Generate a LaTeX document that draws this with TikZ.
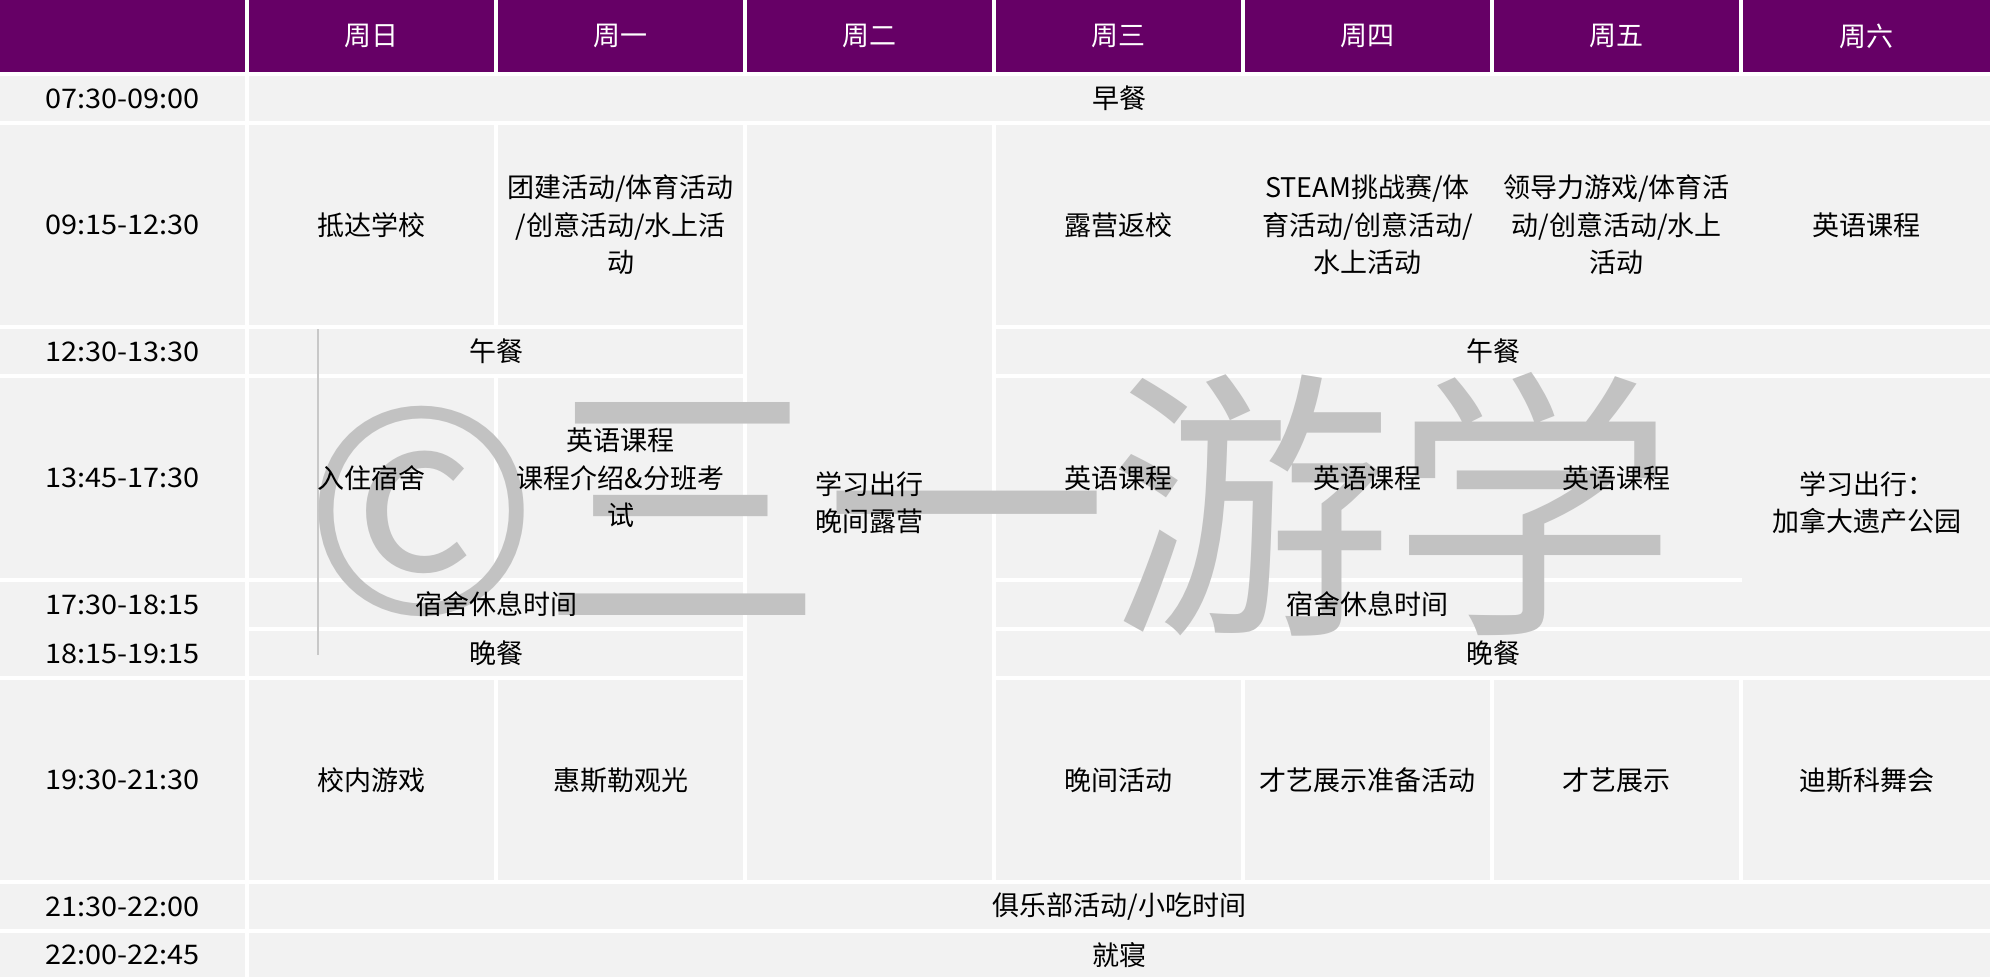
\documentclass[tikz,border=0pt]{standalone}
\usepackage{fontspec}
\setmainfont{Noto Sans CJK SC}
\definecolor{hdr}{HTML}{660066}
\definecolor{cellbg}{HTML}{F2F2F2}
\definecolor{wmark}{HTML}{C2C2C2}
\definecolor{thinline}{HTML}{C8C8C8}
\begin{document}
\begin{tikzpicture}[x=1pt,y=-1pt,
  cellfill/.style={fill=cellbg},
  hdrfill/.style={fill=hdr},
  txt/.style={font=\fontsize{27}{37.5}\selectfont, align=center, text=black, inner sep=0pt},
  timetxt/.style={font=\fontsize{27}{37.5}\selectfont\addfontfeature{FakeStretch=1.07}, align=center, text=black, inner sep=0pt},
  htxt/.style={txt, text=white},
  wmtxt/.style={font=\fontsize{284}{284}\selectfont, text=wmark, inner sep=0pt, anchor=base}]
\useasboundingbox (0,0) rectangle (1990,980);
\fill[white] (0,0) rectangle (1990,980);
% header
\fill[hdrfill] (0,0) rectangle (245,72);
\fill[hdrfill] (249,0) rectangle (494,72);
\fill[hdrfill] (498,0) rectangle (743,72);
\fill[hdrfill] (747,0) rectangle (992,72);
\fill[hdrfill] (996,0) rectangle (1241,72);
\fill[hdrfill] (1245,0) rectangle (1490,72);
\fill[hdrfill] (1494,0) rectangle (1739,72);
\fill[hdrfill] (1743,0) rectangle (1990,72);
% label column
\fill[cellfill] (0,76) rectangle (245,121);
\fill[cellfill] (0,125) rectangle (245,325);
\fill[cellfill] (0,329) rectangle (245,374);
\fill[cellfill] (0,378) rectangle (245,578);
\fill[cellfill] (0,582) rectangle (245,676);
\fill[cellfill] (0,680) rectangle (245,880);
\fill[cellfill] (0,884) rectangle (245,929);
\fill[cellfill] (0,933) rectangle (245,977);
% row 1
\fill[cellfill] (249,76) rectangle (1990,121);
% row 2
\fill[cellfill] (249,125) rectangle (494,325);
\fill[cellfill] (498,125) rectangle (743,325);
\fill[cellfill] (747,125) rectangle (992,880);
\fill[cellfill] (996,125) rectangle (1990,325);
% row 3
\fill[cellfill] (249,329) rectangle (743,374);
\fill[cellfill] (996,329) rectangle (1990,374);
% row 4
\fill[cellfill] (249,378) rectangle (494,578);
\fill[cellfill] (498,378) rectangle (743,578);
\fill[cellfill] (996,378) rectangle (1990,578);
\fill[cellfill] (1742,378) rectangle (1990,627);
% row 5
\fill[cellfill] (249,582) rectangle (743,627);
\fill[cellfill] (996,582) rectangle (1742,627);
% row 6
\fill[cellfill] (249,631) rectangle (743,676);
\fill[cellfill] (996,631) rectangle (1990,676);
% row 7
\fill[cellfill] (249,680) rectangle (494,880);
\fill[cellfill] (498,680) rectangle (743,880);
\fill[cellfill] (996,680) rectangle (1241,880);
\fill[cellfill] (1245,680) rectangle (1490,880);
\fill[cellfill] (1494,680) rectangle (1739,880);
\fill[cellfill] (1743,680) rectangle (1990,880);
% rows 8, 9
\fill[cellfill] (249,884) rectangle (1990,929);
\fill[cellfill] (249,933) rectangle (1990,977);
% thin grey line
\draw[thinline, line width=1.2pt] (318,329) -- (318,655);
% watermark
\node[wmtxt] (wm) at (990,613) {©三一游学};
% header texts
\node[htxt] (h0) at (371.5,36) {周日};
\node[htxt] (h1) at (620.5,36) {周一};
\node[htxt] (h2) at (869.5,36) {周二};
\node[htxt] (h3) at (1118.5,36) {周三};
\node[htxt] (h4) at (1367.5,36) {周四};
\node[htxt] (h5) at (1616.5,36) {周五};
\node[htxt] (h6) at (1866.5,36) {周六};
% time labels
\node[timetxt] (t1) at (122.5,98.5) {07:30-09:00};
\node[timetxt] (t2) at (122.5,225) {09:15-12:30};
\node[timetxt] (t3) at (122.5,351.5) {12:30-13:30};
\node[timetxt] (t4) at (122.5,478) {13:45-17:30};
\node[timetxt] (t5) at (122.5,604.5) {17:30-18:15};
\node[timetxt] (t6) at (122.5,653.5) {18:15-19:15};
\node[timetxt] (t7) at (122.5,780) {19:30-21:30};
\node[timetxt] (t8) at (122.5,906.5) {21:30-22:00};
\node[timetxt] (t9) at (122.5,955) {22:00-22:45};
% row 1
\node[txt] (breakfast) at (1119.5,98.5) {早餐};
% row 2
\node[txt] (arrive) at (371.5,225) {抵达学校};
\node[txt] (mon2) at (620.5,225) {团建活动/体育活动\\/创意活动/水上活\\动};
\node[txt] (tue) at (869.5,502.5) {学习出行\\晚间露营};
\node[txt] (wed2) at (1118.5,225) {露营返校};
\node[txt] (thu2) at (1367.5,225) {STEAM挑战赛/体\\育活动/创意活动/\\水上活动};
\node[txt] (fri2) at (1616.5,225) {领导力游戏/体育活\\动/创意活动/水上\\活动};
\node[txt] (sat2) at (1866.5,225) {英语课程};
% row 3
\node[txt] (lunchA) at (496,351.5) {午餐};
\node[txt] (lunchB) at (1493,351.5) {午餐};
% row 4
\node[txt] (checkin) at (371.5,478) {入住宿舍};
\node[txt] (mon4) at (620.5,478) {英语课程\\课程介绍\&分班考\\试};
\node[txt] (wed4) at (1118.5,478) {英语课程};
\node[txt] (thu4) at (1367.5,478) {英语课程};
\node[txt] (fri4) at (1616.5,478) {英语课程};
\node[txt] (sat4) at (1866.5,502.5) {学习出行：\\加拿大遗产公园};
% row 5
\node[txt] (restA) at (496,604.5) {宿舍休息时间};
\node[txt] (restB) at (1367.5,604.5) {宿舍休息时间};
% row 6
\node[txt] (dinnerA) at (496,653.5) {晚餐};
\node[txt] (dinnerB) at (1493,653.5) {晚餐};
% row 7
\node[txt] (sun7) at (371.5,780) {校内游戏};
\node[txt] (mon7) at (620.5,780) {惠斯勒观光};
\node[txt] (wed7) at (1118.5,780) {晚间活动};
\node[txt] (thu7) at (1367.5,780) {才艺展示准备活动};
\node[txt] (fri7) at (1616.5,780) {才艺展示};
\node[txt] (sat7) at (1866.5,780) {迪斯科舞会};
% rows 8, 9
\node[txt] (club) at (1119.5,906.5) {俱乐部活动/小吃时间};
\node[txt] (sleep) at (1119.5,955) {就寝};
\end{tikzpicture}
\end{document}
